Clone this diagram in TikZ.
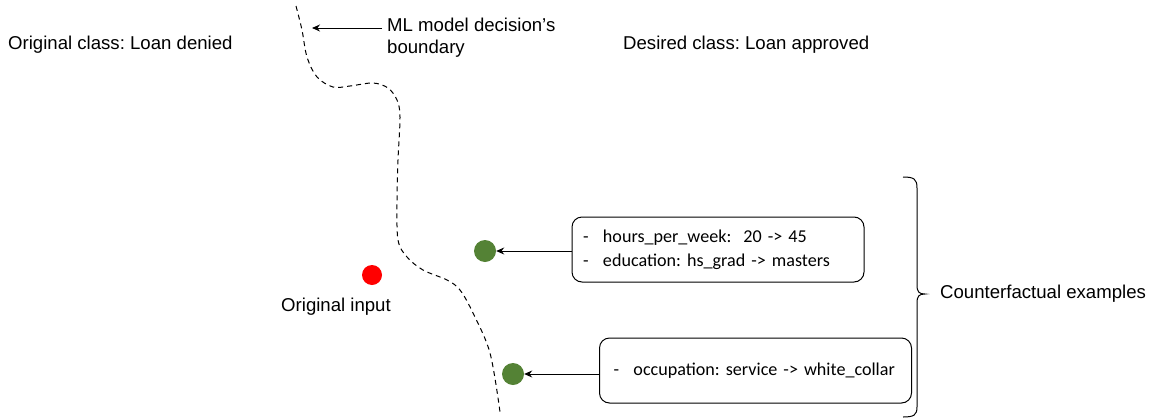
\documentclass[tikz,border=0pt]{standalone}
\usepackage{fontspec}
\setmainfont{Liberation Sans}
\newfontfamily\boxfont{Carlito}
\usetikzlibrary{arrows.meta}
\definecolor{cfgreen}{RGB}{84,130,53}
\definecolor{origred}{RGB}{255,0,0}
\frenchspacing
\tikzset{
  lbl/.style={inner sep=0pt, font=\fontsize{18.6}{22}\selectfont},
  cfbox/.style={draw, rounded corners=10pt, line width=1pt, align=left,
    font=\boxfont\fontsize{18.1}{24}\selectfont, inner ysep=0pt},
  arr/.style={line width=1pt, -{Stealth[length=8pt,width=7pt]}},
  dot/.style={circle, inner sep=0pt, minimum size=#1},
  boundary/.style={line width=1pt, dash pattern=on 5pt off 4pt},
}
\newcommand{\dashitem}[1]{\mbox{\makebox[20pt][l]{-}#1}}
\begin{document}
\begin{tikzpicture}[x=1pt,y=-1pt]
\useasboundingbox (0,0) rectangle (1151,418);
% decision boundary
\draw[boundary] plot[smooth, tension=0.55] coordinates {
 (296,6) (302,30) (307,57) (317,77) (333,87) (350,86) (373,83) (388,88)
 (397,100) (400,117) (398,160) (397,200) (398,240) (407,257) (423,270)
 (447,280) (460,290) (473,313) (490,353) (500,412)};
\coordinate (bpt) at (312,28);
\node[lbl, anchor=north west, align=left] (mlabel) at (387,18) {ML model decision’s\\boundary};
\coordinate (mstart) at ([xshift=-5pt]mlabel.west |- bpt);
\draw[arr] (mstart) -- (bpt);
% class labels
\node[lbl, anchor=west] (orig) at (8,45) {Original class: Loan denied};
\node[lbl, anchor=west] (des) at (623,45) {Desired class: Loan approved};
% original input
\node[dot=20pt, fill=origred] (red) at (372,275) {};
\node[lbl] (oin) at (336,307) {Original input};
% counterfactuals
\node[dot=22pt, fill=cfgreen] (g1) at (485,251) {};
\node[dot=22pt, fill=cfgreen] (g2) at (513,374) {};
\node[cfbox, minimum width=292pt, minimum height=65pt, text width=270pt, inner xsep=11pt] (b1) at (718,249.5)
 {\dashitem{hours\_per\_week:\ \ 20 -> 45}\\\dashitem{education: hs\_grad -> masters}};
\node[cfbox, minimum width=312pt, minimum height=65pt, text width=284pt, inner xsep=14pt] (b2) at (755.5,370.5)
 {\dashitem{occupation: service -> white\_collar}};
\draw[arr] (b1.west |- g1) -- (g1);
\draw[arr] (b2.west |- g2) -- (g2);
% brace
\draw[line width=1pt] (903,177) .. controls (914,177) and (917,179) .. (917,188)
 -- (917,285) .. controls (917,292) and (919,294) .. (925,294)
 .. controls (919,294) and (917,296) .. (917,303)
 -- (917,407) .. controls (917,415) and (914,417) .. (903,417);
\node[lbl, anchor=west] (cf) at (940,294) {Counterfactual examples};
\end{tikzpicture}
\end{document}
